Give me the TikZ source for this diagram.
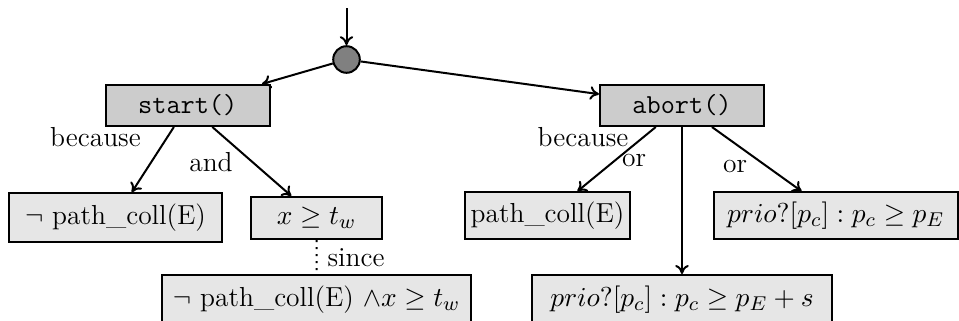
\documentclass[tikz,border=0pt]{standalone}
\usetikzlibrary{arrows.meta}
\definecolor{topgray}{HTML}{CCCCCC}
\definecolor{lowgray}{HTML}{E6E6E6}
\definecolor{dotgray}{HTML}{808080}
\begin{document}
\begin{tikzpicture}[x=0.4pt,y=-0.4pt,
  every node/.style={font=\fontsize{11}{13}\selectfont},
  topbox/.style={draw, line width=0.8pt, fill=topgray, inner sep=0pt, minimum height=16.4pt},
  lowbox/.style={draw, line width=0.8pt, fill=lowgray, inner sep=0pt},
  conn/.style={-{To[length=3.6pt,width=5.4pt]}, line width=0.8pt},
  lbl/.style={anchor=base, inner sep=0pt}]
\useasboundingbox (0,0) rectangle (959,320);

\coordinate (in) at (346.5,8);
\node[circle, draw, line width=0.8pt, fill=dotgray, minimum size=10.64pt, inner sep=0pt] (c) at (346.5,59.5) {};

\node[topbox, minimum width=65.4pt] (start) at (187.75,105.5) {\texttt{start()}};
\node[topbox, minimum width=65.6pt] (abort) at (682,105.5) {\texttt{abort()}};

\node[lowbox, minimum width=85.2pt, minimum height=19.4pt] (n1) at (115.5,217.5) {$\neg$ path\_coll(E)};
\node[lowbox, minimum width=52.4pt, minimum height=16.8pt] (n2) at (316.5,218) {$x \geq t_w$};
\node[lowbox, minimum width=123.5pt, minimum height=19.6pt] (n3) at (316.6,299.5) {$\neg$ path\_coll(E) $\wedge x \geq t_w$};
\node[lowbox, minimum width=66pt, minimum height=18.8pt] (n4) at (547.5,215.8) {path\_coll(E)};
\node[lowbox, minimum width=97.4pt, minimum height=18.8pt] (n5) at (835.75,215.8) {$prio?[p_c] : p_c \geq p_E$};
\node[lowbox, minimum width=120.2pt, minimum height=19.6pt] (n6) at (682,299.5) {$prio?[p_c] : p_c \geq p_E + s$};

\draw[conn] (in) -- (c);
\draw[conn] (c) -- (start);
\draw[conn] (c) -- (abort);
\draw[conn] (start) -- (n1);
\draw[conn] (start) -- (n2);
\draw[dotted, line width=0.8pt] (n2) -- (n3);
\draw[conn] (abort) -- (n4);
\draw[conn] (abort) -- (n6);
\draw[conn] (abort) -- (n5);

\node[lbl] (l1) at (95.5,146) {because};
\node[lbl] (l2) at (211,171.7) {and};
\node[lbl] (l3) at (356,266.7) {since};
\node[lbl] (l4) at (583,146) {because};
\node[lbl] (l5) at (634,166.7) {or};
\node[lbl] (l6) at (735,172.3) {or};
\end{tikzpicture}
\end{document}
